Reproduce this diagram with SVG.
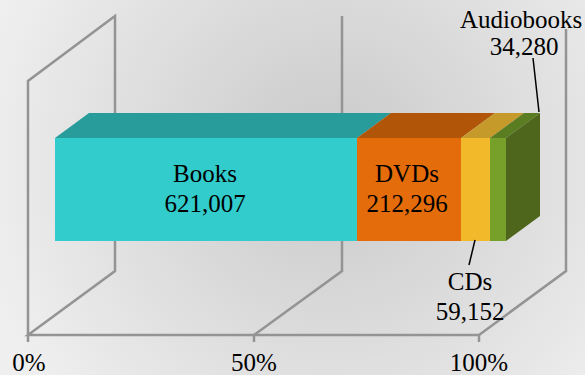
<svg xmlns="http://www.w3.org/2000/svg" width="585" height="375" viewBox="0 0 585 375">
<defs>
<radialGradient id="bg" gradientUnits="userSpaceOnUse" cx="330" cy="160" r="360">
<stop offset="0" stop-color="#c9c9c9"/>
<stop offset="1" stop-color="#efefef"/>
</radialGradient>
</defs>
<style>
.grid{fill:none;stroke:#949494;stroke-width:2.5;stroke-linejoin:miter}
.lbl{font-family:'Liberation Serif','Times New Roman',serif;font-size:25px;fill:#000;text-anchor:middle}
.leader{stroke:#000;stroke-width:1.5;fill:none}
</style>
<rect x="0" y="0" width="585" height="375" fill="url(#bg)"/>
<g id="grid">
<polyline class="grid" points="28,342 28,81 115,16 115,271 28,335 479,335 566,271 566,29"/>
<polyline class="grid" points="342,16 342,271 254,335 254,342"/>
<line class="grid" x1="479" y1="335" x2="479" y2="342"/>
</g>
<g id="axis-labels">
<text class="lbl" x="29" y="371">0%</text>
<text class="lbl" x="254" y="371">50%</text>
<text class="lbl" x="479" y="371">100%</text>
</g>
<g id="books">
<polygon points="55,138 89,113 391,113 357,138" fill="#289c9a"/>
<rect x="55" y="138" width="302" height="103" fill="#31cccb"/>
<text class="lbl" x="205" y="182">Books</text>
<text class="lbl" x="205" y="212">621,007</text>
</g>
<g id="dvds">
<polygon points="357,138 391,113 495,113 461,138" fill="#b15608"/>
<rect x="357" y="138" width="104" height="103" fill="#e46c0a"/>
<text class="lbl" x="407" y="182">DVDs</text>
<text class="lbl" x="407" y="212">212,296</text>
</g>
<g id="cds">
<polygon points="461,138 495,113 524,113 490,138" fill="#c6992b"/>
<rect x="461" y="138" width="29" height="103" fill="#f2b92b"/>
</g>
<g id="audiobooks">
<polygon points="490,138 524,113 540,113 506,138" fill="#5a7d22"/>
<rect x="490" y="138" width="16" height="103" fill="#77a02b"/>
<polygon points="506,138 540,113 540,216 506,241" fill="#4d661b"/>
</g>
<g id="connectors">
<line class="leader" x1="475" y1="240" x2="469" y2="265"/>
<line class="leader" x1="533" y1="58" x2="539" y2="112"/>
</g>
<g id="cd-label">
<text class="lbl" x="470" y="290">CDs</text>
<text class="lbl" x="470" y="320">59,152</text>
</g>
<g id="audio-label">
<text class="lbl" x="521" y="28">Audiobooks</text>
<text class="lbl" x="524" y="55">34,280</text>
</g>
</svg>
